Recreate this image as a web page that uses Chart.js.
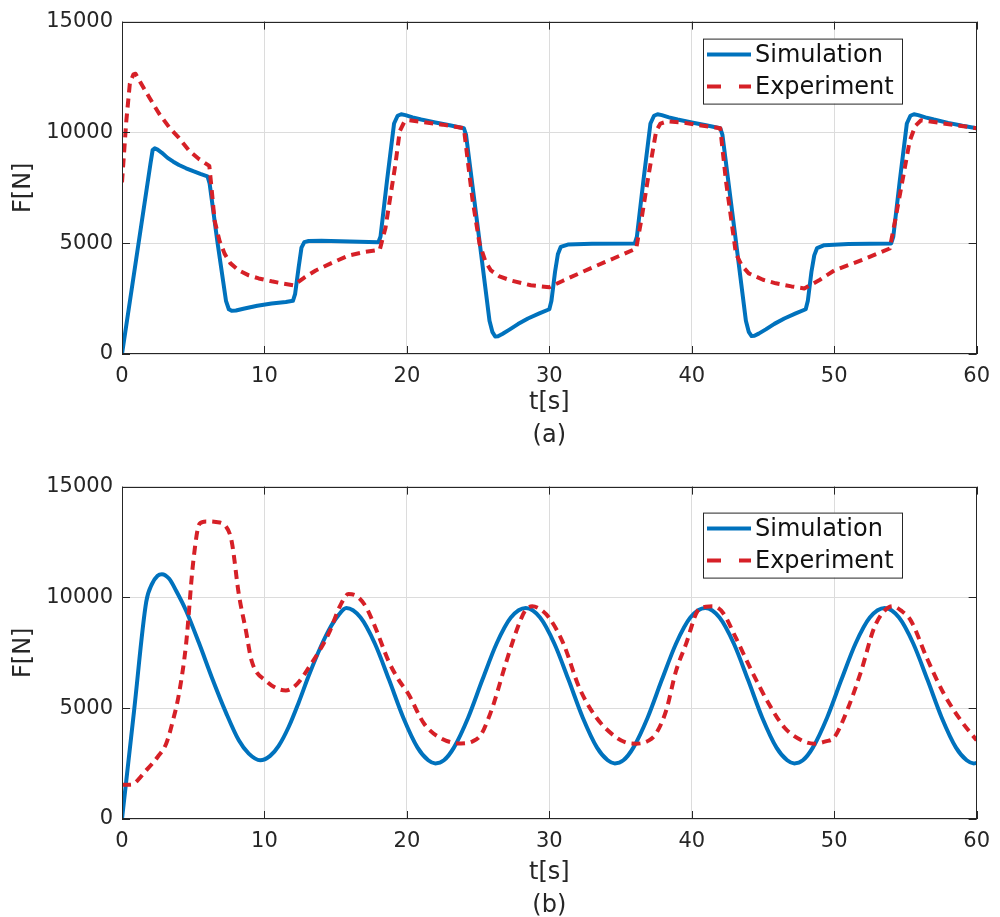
<!DOCTYPE html>
<html>
<head>
<meta charset="utf-8">
<script src="https://cdn.jsdelivr.net/npm/chart.js@4.4.1/dist/chart.umd.min.js"></script>
<style>
  html, body { margin: 0; padding: 0; background: #fff; width: 1000px; height: 917px; overflow: hidden; }
  .box { position: absolute; left: 0; width: 1000px; }
  #wrapA { top: 0; height: 465px; }
  #wrapB { top: 465px; height: 465px; }
</style>
</head>
<body>
<div class="box" id="wrapA"><canvas id="chartA"></canvas></div>
<div class="box" id="wrapB"><canvas id="chartB"></canvas></div>
<script>
// ---------------- DATA ----------------
const seriesLabels = ['Simulation', 'Experiment'];
const xTitleA = ['t[s]', '(a)'];
const xTitleB = ['t[s]', '(b)'];
const yTitle = 'F[N]';
const xTicks = [0, 10, 20, 30, 40, 50, 60];
const yTicks = [0, 5000, 10000, 15000];

// (a) Simulation  [t, F]
const simA = [[0,0],[1.0,4300],[2.0,8600],[2.15,9200],[2.3,9280],[2.5,9220],[2.8,9080],[3.2,8850],[3.6,8680],
  [4.0,8530],[4.5,8380],[5.0,8250],[5.5,8130],[6.0,8020],[6.15,7700],[6.7,5050],[7.3,2400],[7.5,2020],[7.7,1950],
  [8.0,1960],[8.6,2050],[9.5,2180],[10.5,2280],[11.5,2350],[12.0,2400],[12.15,2700],[12.4,3900],[12.6,4800],
  [12.8,5050],[13.1,5100],[14,5110],[16,5080],[18,5040],[18.15,5300],[18.6,7800],[19.1,10400],[19.35,10750],
  [19.6,10820],[19.9,10780],[20.4,10680],[21,10580],[22,10450],[23,10320],[24.0,10190],[24.15,9900],[25.0,5600],
  [25.8,1500],[26.0,1000],[26.2,790],[26.4,800],[26.7,900],[27.2,1100],[27.8,1350],[28.5,1600],[29.3,1830],
  [30.0,2020],[30.15,2400],[30.4,3700],[30.6,4500],[30.8,4830],[31.3,4940],[33,4970],[36,4990],[36.15,5300],
  [36.6,7800],[37.1,10400],[37.35,10750],[37.6,10820],[37.9,10780],[38.4,10680],[39,10580],[40,10450],[41,10320],
  [42,10190],[42.15,9900],[43.0,5600],[43.8,1500],[44.0,1000],[44.2,810],[44.4,820],[44.7,920],[45.2,1110],
  [45.8,1360],[46.5,1600],[47.3,1830],[48.0,2020],[48.15,2400],[48.4,3700],[48.6,4450],[48.8,4780],[49.3,4910],
  [51,4960],[54,4990],[54.15,5300],[54.6,7800],[55.1,10400],[55.35,10750],[55.6,10820],[55.9,10780],[56.4,10680],
  [57,10580],[58,10430],[59,10300],[60,10190]];

// (a) Experiment  [t, F]
const expA = [[0,7750],[0.3,10500],[0.55,12200],[0.8,12620],[0.95,12650],[1.3,12250],[1.95,11540],[2.6,10850],
  [3.35,10200],[4.0,9750],[4.74,9160],[5.4,8800],[6.13,8490],[6.3,7400],[6.5,6020],[6.85,5100],[7.2,4530],
  [7.6,4100],[8.2,3770],[8.9,3550],[9.6,3410],[10.5,3280],[11.3,3180],[12.05,3100],[12.8,3450],[13.6,3770],
  [14.7,4100],[15.9,4440],[17.0,4600],[18.1,4710],[18.5,5700],[19.2,8580],[19.5,10060],[19.8,10450],[20.1,10550],
  [21,10480],[22.5,10350],[24.0,10190],[24.25,8850],[24.6,7000],[25.1,4980],[25.5,4200],[25.9,3770],[26.5,3500],
  [27.3,3320],[28.7,3100],[30.0,3010],[31.0,3320],[32.1,3640],[33.3,3980],[34.5,4310],[36.1,4760],[36.5,6200],
  [36.9,7810],[37.5,10060],[37.8,10400],[38.3,10500],[39.5,10430],[40.5,10330],[42.0,10190],[42.4,7810],
  [43.1,4530],[43.5,4000],[44.0,3640],[45.0,3350],[45.9,3190],[47.0,3050],[47.9,2960],[49.0,3350],[50.0,3770],
  [52.0,4250],[53.9,4760],[54.3,6100],[54.7,7500],[55.3,9610],[55.7,10300],[56.1,10550],[57.5,10420],[58.8,10300],
  [60,10190]];

// (b) Simulation  [t, F]
const simB = [[0,0],[0.85,4900],[1.7,9800],[2.1,10600],[2.5,10980],[2.8,11050],[3.3,10850],[3.8,10300],[4.5,9400],
  [5.4,7950],[6.3,6400],[7.3,4800],[8.2,3550],[8.9,2950],[9.7,2650],[10.4,2850],[11.0,3300],[11.7,4150],
  [12.4,5250],[13.1,6450],[13.8,7550],[14.5,8500],[15.2,9200],[15.75,9520],[16.75,9090],[17.75,7920],[18.75,6280],
  [19.75,4570],[20.75,3220],[21.5,2650],[22.0,2510],[22.6,2650],[23.3,3220],[24.3,4570],[25.3,6280],[26.3,7920],
  [27.3,9090],[28.35,9520],[29.35,9090],[30.35,7920],[31.35,6280],[32.35,4570],[33.35,3220],[34.1,2650],[34.6,2510],
  [35.2,2650],[35.9,3220],[36.9,4570],[37.9,6280],[38.9,7920],[39.9,9090],[40.95,9520],[41.95,9090],[42.95,7920],
  [43.95,6280],[44.95,4570],[45.95,3220],[46.7,2650],[47.2,2510],[47.8,2650],[48.5,3220],[49.5,4570],[50.5,6280],
  [51.5,7920],[52.5,9090],[53.55,9520],[54.55,9090],[55.55,7920],[56.55,6280],[57.55,4570],[58.55,3220],
  [59.3,2650],[59.8,2510],[60,2530]];

// (b) Experiment  [t, F]
const expB = [[0,1550],[0.6,1550],[1.7,2200],[2.5,2800],[3.1,3400],[3.6,4500],[4.0,5650],[4.5,7900],[5.0,11600],
  [5.45,13330],[5.9,13430],[6.6,13400],[7.3,13200],[7.7,12530],[8.2,10150],[8.7,8500],[9.1,7140],[10.1,6240],
  [11.5,5800],[12.3,6100],[13.1,6820],[14.5,8350],[15.3,9600],[15.9,10150],[16.5,10050],[17.1,9600],[17.8,8620],
  [18.7,7140],[19.4,6300],[20.1,5650],[21.2,4310],[22.4,3640],[23.8,3410],[24.6,3500],[25.2,3800],[25.7,4500],
  [26.1,5210],[27.0,7140],[27.9,8850],[28.3,9400],[28.8,9600],[29.4,9450],[30.0,9070],[31.0,7900],[32.1,5930],
  [33.3,4580],[34.7,3680],[35.4,3450],[36.1,3400],[37.0,3550],[37.5,3860],[38.2,4890],[38.9,6690],[39.6,7900],
  [40.4,9380],[41.0,9580],[41.5,9600],[42.2,9300],[43.1,8170],[44.2,6690],[45.4,5210],[46.5,4130],[47.7,3550],
  [48.6,3400],[49.4,3500],[50.0,3680],[50.9,4890],[51.9,6690],[52.8,8620],[53.5,9380],[54.1,9600],[54.7,9400],
  [55.4,8930],[56.5,7270],[57.7,5650],[58.9,4440],[60,3550]];

// ---------------- STYLE ----------------
const FONT = '"DejaVu Sans", sans-serif';
const AXIS_COLOR = '#262626';
const SIM_COLOR = '#0072BD';
const EXP_COLOR = '#D62027';

const toPts = arr => arr.map(p => ({x: p[0], y: p[1]}));

const frameAndLegend = {
  id: 'frameAndLegend',
  afterDraw(chart) {
    const {ctx, chartArea: a, scales: {x, y}} = chart;
    ctx.save();
    ctx.strokeStyle = AXIS_COLOR;
    ctx.lineWidth = 1;
    const TL = 8;
    ctx.beginPath();
    xTicks.forEach(v => {
      const px = Math.round(x.getPixelForValue(v)) + 0.5;
      ctx.moveTo(px, a.bottom); ctx.lineTo(px, a.bottom - TL);
      ctx.moveTo(px, a.top); ctx.lineTo(px, a.top + TL);
    });
    yTicks.forEach(v => {
      const py = Math.round(y.getPixelForValue(v)) + 0.5;
      ctx.moveTo(a.left, py); ctx.lineTo(a.left + TL, py);
      ctx.moveTo(a.right, py); ctx.lineTo(a.right - TL, py);
    });
    ctx.stroke();
    ctx.strokeRect(Math.round(a.left) + 0.5, Math.round(a.top) + 0.5,
                   Math.round(a.right - a.left) - 1, Math.round(a.bottom - a.top) - 1);
    // legend
    const lg = chart.options.plugins.frameAndLegend;
    const bx = 703, by = a.top + lg.offsetTop, bw = 199, bh = 65;
    ctx.fillStyle = '#fff';
    ctx.fillRect(bx, by, bw, bh);
    ctx.strokeStyle = AXIS_COLOR;
    ctx.lineWidth = 1;
    ctx.strokeRect(bx + 0.5, by + 0.5, bw, bh);
    const rows = [by + 16, by + 48];
    chart.data.datasets.forEach((ds, i) => {
      ctx.beginPath();
      ctx.strokeStyle = ds.borderColor;
      ctx.lineWidth = 4;
      ctx.setLineDash(i === 1 ? [14, 18] : []);
      ctx.moveTo(707, rows[i]); ctx.lineTo(751, rows[i]);
      ctx.stroke();
      ctx.setLineDash([]);
      ctx.fillStyle = '#111';
      ctx.font = '24px ' + FONT;
      ctx.textBaseline = 'middle';
      ctx.textAlign = 'left';
      ctx.fillText(ds.label, 755, rows[i] + 1);
    });
    ctx.restore();
  }
};

function makeChart(id, sim, exp, xTitle, legendTop, canvasH, titlePad, interp) {
  const lineOpts = interp === 'monotone' ? { cubicInterpolationMode: 'monotone' } : { tension: 0 };
  return new Chart(document.getElementById(id), {
    type: 'line',
    data: {
      datasets: [
        Object.assign({ label: seriesLabels[0], data: toPts(sim), borderColor: SIM_COLOR, borderWidth: 4,
          pointRadius: 0, order: 1, borderJoinStyle: 'round', borderCapStyle: 'round' }, lineOpts),
        Object.assign({ label: seriesLabels[1], data: toPts(exp), borderColor: EXP_COLOR, borderWidth: 4,
          borderDash: [9, 6], pointRadius: 0, order: 0, borderJoinStyle: 'round' }, lineOpts)
      ]
    },
    options: {
      responsive: true,
      maintainAspectRatio: false,
      animation: false,
      layout: { padding: { left: 0, top: 20, right: 17, bottom: 0 } },
      plugins: {
        legend: { display: false },
        tooltip: { enabled: false },
        frameAndLegend: { offsetTop: legendTop }
      },
      scales: {
        x: {
          type: 'linear', min: 0, max: 60,
          afterBuildTicks: s => { s.ticks = xTicks.map(v => ({value: v})); },
          afterFit: s => { s.height = canvasH - 354; },
          grid: { color: '#dcdcdc', lineWidth: 1, drawTicks: false },
          border: { display: false },
          ticks: { padding: 10, color: AXIS_COLOR, font: { family: FONT, size: 21 }, maxRotation: 0,
                   callback: v => String(v) },
          title: { display: true, text: xTitle, color: AXIS_COLOR,
                   font: { family: FONT, size: 24, lineHeight: 1.4 }, padding: { top: 0, bottom: titlePad } }
        },
        y: {
          type: 'linear', min: 0, max: 15000,
          afterBuildTicks: s => { s.ticks = yTicks.map(v => ({value: v})); },
          afterFit: s => { s.width = 122; },
          grid: { color: '#dcdcdc', lineWidth: 1, drawTicks: false },
          border: { display: false },
          ticks: { padding: 9, color: AXIS_COLOR, font: { family: FONT, size: 21 },
                   callback: v => String(v) },
          title: { display: true, text: yTitle, color: AXIS_COLOR,
                   font: { family: FONT, size: 24, lineHeight: 1.2 }, padding: { top: 9, bottom: 0 } }
        }
      }
    },
    plugins: [frameAndLegend]
  });
}

makeChart('chartA', simA, expA, xTitleA, 17, 465, 12, 'linear');
makeChart('chartB', simB, expB, xTitleB, 26, 465, 7, 'monotone');
</script>
</body>
</html>
